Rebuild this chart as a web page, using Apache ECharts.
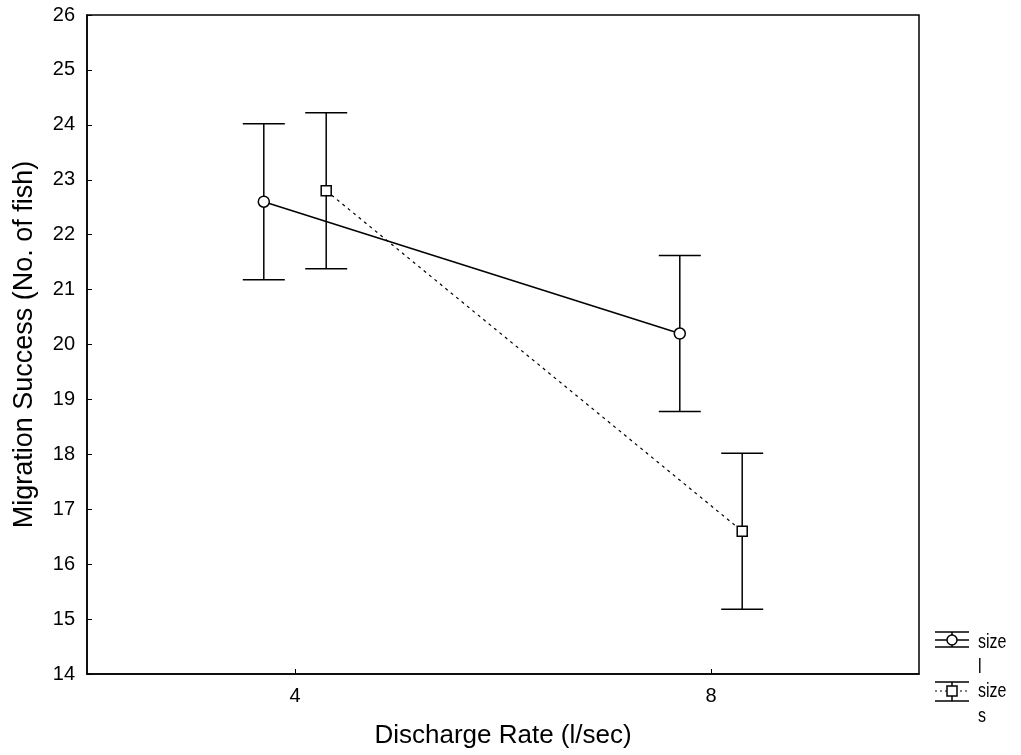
<!DOCTYPE html>
<html>
<head>
<meta charset="utf-8">
<script src="https://cdn.jsdelivr.net/npm/echarts@6/dist/echarts.min.js"></script>
<style>
  html, body { margin: 0; padding: 0; background: #fff; }
  #chart { width: 1021px; height: 755px; }
</style>
</head>
<body>
<div id="chart"></div>
<script>
// discharge rates (x categories)
const discharge = [4, 8]
// size l: means and error bar ends
const sizeLMean = [22.6, 20.2]
const sizeLLow = [21.18, 18.78]
const sizeLHigh = [24.02, 21.62]
// size s
const sizeSMean = [22.8, 16.6]
const sizeSLow = [21.38, 15.18]
const sizeSHigh = [24.22, 18.02]
// axis ticks
const xTicks = [4, 8]
const legendNames = ['size\nl', 'size\ns']

// horizontal dodge between the two groups
const dodge = 0.3
const font = 'Liberation Sans, Arial, sans-serif'

const chart = echarts.init(document.getElementById('chart'))

function pts(mean, shift) {
  return discharge.map((d, i) => [d + shift, mean[i]])
}
function bars(low, high, shift) {
  return discharge.map((d, i) => [d + shift, low[i], high[i]])
}

function renderErr(params, api) {
  const x = api.value(0)
  const lo = api.coord([x, api.value(1)])
  const hi = api.coord([x, api.value(2)])
  const half = 21
  const style = { stroke: '#000', lineWidth: 1.5 }
  return {
    type: 'group',
    children: [
      { type: 'line', shape: { x1: lo[0], y1: lo[1], x2: hi[0], y2: hi[1] }, style },
      { type: 'line', shape: { x1: lo[0] - half, y1: lo[1], x2: lo[0] + half, y2: lo[1] }, style },
      { type: 'line', shape: { x1: hi[0] - half, y1: hi[1], x2: hi[0] + half, y2: hi[1] }, style }
    ]
  }
}

const options = {
  animation: false,
  grid: {
    left: 87,
    right: 102,
    top: 15,
    bottom: 81,
    show: true,
    borderColor: '#000',
    borderWidth: 1.5
  },
  xAxis: {
    type: 'value',
    min: 2,
    max: 10,
    name: 'Discharge Rate (l/sec)',
    nameLocation: 'middle',
    nameGap: 49,
    nameTextStyle: { fontSize: 26, color: '#000', fontFamily: font },
    splitLine: { show: false },
    axisLine: { lineStyle: { color: '#000', width: 1.5 } },
    axisTick: { inside: true, length: 5, customValues: xTicks, lineStyle: { color: '#000' } },
    axisLabel: { customValues: xTicks, fontSize: 20, color: '#000', fontFamily: font, margin: 12 }
  },
  yAxis: {
    type: 'value',
    min: 14,
    max: 26,
    interval: 1,
    name: 'Migration Success (No. of fish)',
    nameLocation: 'middle',
    nameGap: 49,
    nameRotate: 90,
    nameTextStyle: { fontSize: 27, color: '#000', fontFamily: font },
    splitLine: { show: false },
    axisLine: { show: true, lineStyle: { color: '#000', width: 1.5 } },
    axisTick: { show: true, inside: true, length: 5, lineStyle: { color: '#000' } },
    axisLabel: { fontSize: 20, color: '#000', fontFamily: font, margin: 12 }
  },
  series: [
    {
      type: 'custom',
      renderItem: renderErr,
      data: bars(sizeLLow, sizeLHigh, -dodge),
      z: 1
    },
    {
      type: 'custom',
      renderItem: renderErr,
      data: bars(sizeSLow, sizeSHigh, dodge),
      z: 1
    },
    {
      name: 'size l',
      type: 'line',
      data: pts(sizeLMean, -dodge),
      symbol: 'circle',
      symbolSize: 11,
      lineStyle: { color: '#000', width: 1.5 },
      itemStyle: { color: '#fff', borderColor: '#000', borderWidth: 1.5 },
      z: 3
    },
    {
      name: 'size s',
      type: 'line',
      data: pts(sizeSMean, dodge),
      symbol: 'rect',
      symbolSize: 10,
      lineStyle: { color: '#000', width: 1.2, type: [3, 4] },
      itemStyle: { color: '#fff', borderColor: '#000', borderWidth: 1.5 },
      z: 3
    }
  ],
  graphic: [
    // legend: size l
    {
      type: 'group', x: 935, y: 632,
      children: [
        { type: 'line', shape: { x1: 0, y1: 0, x2: 34, y2: 0 }, style: { stroke: '#000', lineWidth: 1.5 } },
        { type: 'line', shape: { x1: 0, y1: 8, x2: 34, y2: 8 }, style: { stroke: '#000', lineWidth: 1.5 } },
        { type: 'line', shape: { x1: 0, y1: 15, x2: 34, y2: 15 }, style: { stroke: '#000', lineWidth: 1.5 } },
        { type: 'line', shape: { x1: 17, y1: 0, x2: 17, y2: 15 }, style: { stroke: '#000', lineWidth: 1.5 } },
        { type: 'circle', shape: { cx: 17, cy: 8, r: 5 }, style: { fill: '#fff', stroke: '#000', lineWidth: 1.5 } }
      ]
    },
    {
      type: 'text', x: 978, y: 630, scaleX: 0.8,
      style: { text: legendNames[0], font: '20px ' + font, fill: '#000', lineHeight: 25 }
    },
    // legend: size s
    {
      type: 'group', x: 935, y: 682,
      children: [
        { type: 'line', shape: { x1: 0, y1: 0, x2: 34, y2: 0 }, style: { stroke: '#000', lineWidth: 1.5 } },
        { type: 'line', shape: { x1: 0, y1: 9, x2: 34, y2: 9 }, style: { stroke: '#000', lineWidth: 1.2, lineDash: [2, 3] } },
        { type: 'line', shape: { x1: 0, y1: 19, x2: 34, y2: 19 }, style: { stroke: '#000', lineWidth: 1.5 } },
        { type: 'line', shape: { x1: 17, y1: 0, x2: 17, y2: 19 }, style: { stroke: '#000', lineWidth: 1.5 } },
        { type: 'rect', shape: { x: 12, y: 4, width: 10, height: 10 }, style: { fill: '#fff', stroke: '#000', lineWidth: 1.5 } }
      ]
    },
    {
      type: 'text', x: 978, y: 679, scaleX: 0.8,
      style: { text: legendNames[1], font: '20px ' + font, fill: '#000', lineHeight: 25 }
    }
  ]
}

chart.setOption(options)
</script>
</body>
</html>
